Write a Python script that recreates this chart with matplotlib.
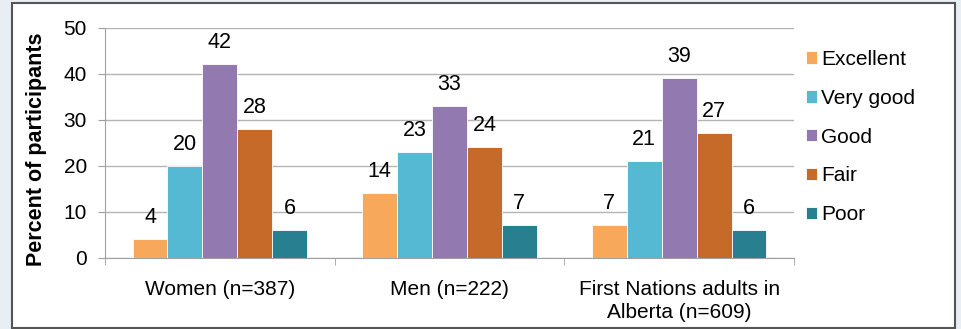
import numpy as np
import matplotlib.pyplot as plt
from matplotlib.patches import Rectangle

plt.rcParams['font.family'] = ['Liberation Sans', 'DejaVu Sans']

# self-rated health, percent of participants
groups = ['Women (n=387)', 'Men (n=222)', 'First Nations adults in\nAlberta (n=609)']
ratings = ['Excellent', 'Very good', 'Good', 'Fair', 'Poor']
excellent = [4, 14, 7]
very_good = [20, 23, 21]
good = [42, 33, 39]
fair = [28, 24, 27]
poor = [6, 7, 6]
colors = ['#F8A85A', '#56B9D3', '#9279AF', '#C56A28', '#287F8F']

series = [excellent, very_good, good, fair, poor]

fig = plt.figure(figsize=(9.61, 3.29), dpi=100)
fig.patch.set_facecolor('#e8eef4')
# white panel with dark border
fig.patches.append(Rectangle((12 / 961, 1 / 329), 943 / 961, 325 / 329,
                             transform=fig.transFigure, facecolor='white',
                             edgecolor='#555555', linewidth=1.5, zorder=-1))

ax = fig.add_axes([105 / 961, 1 - 257.7 / 329, 689 / 961, 230 / 329])
ax.set_zorder(2)
ax.set_facecolor('none')

x = np.arange(len(groups))
w = 0.152
for i, (vals, lab, c) in enumerate(zip(series, ratings, colors)):
    pos = x + (i - 2) * w
    ax.bar(pos, vals, width=w, color=c, edgecolor='white', linewidth=0.6,
           label=lab, zorder=3)
    for px, v in zip(pos, vals):
        ax.annotate(str(v), (px, v), xytext=(0, 16), textcoords='offset pixels',
                    ha='center', va='baseline', fontsize=15.5)

ax.set_ylim(0, 50)
ax.set_xlim(-0.5, 2.5)
ax.set_yticks(range(0, 51, 10))
ax.yaxis.grid(True, color='#b4b4b4', linewidth=1, zorder=0)
ax.set_axisbelow(True)

ax.set_xticks(x)
ax.set_xticklabels(groups, fontsize=15, linespacing=1.3)
ax.set_xticks([-0.5, 0.5, 1.5, 2.5], minor=True)
ax.tick_params(axis='x', which='major', length=0, pad=16)
ax.tick_params(axis='x', which='minor', length=5, color='#a0a0a0')
ax.tick_params(axis='y', length=5, color='#a0a0a0', pad=8, labelsize=15)

for s in ['top', 'right']:
    ax.spines[s].set_visible(False)
for s in ['left', 'bottom']:
    ax.spines[s].set_color('#a0a0a0')

ax.set_ylabel('Percent of participants', fontsize=15.5, fontweight='bold')
ax.yaxis.set_label_coords(-0.084, 0.47)

ax.legend(loc='upper left', bbox_to_anchor=(806 / 961, 1 - 50 / 329),
          bbox_transform=fig.transFigure, frameon=False, fontsize=15,
          handlelength=0.53, handleheight=0.53, handletextpad=0.2,
          labelspacing=0.95, borderaxespad=0, borderpad=0)

fig.savefig('out.png', dpi=100, facecolor=fig.get_facecolor())
